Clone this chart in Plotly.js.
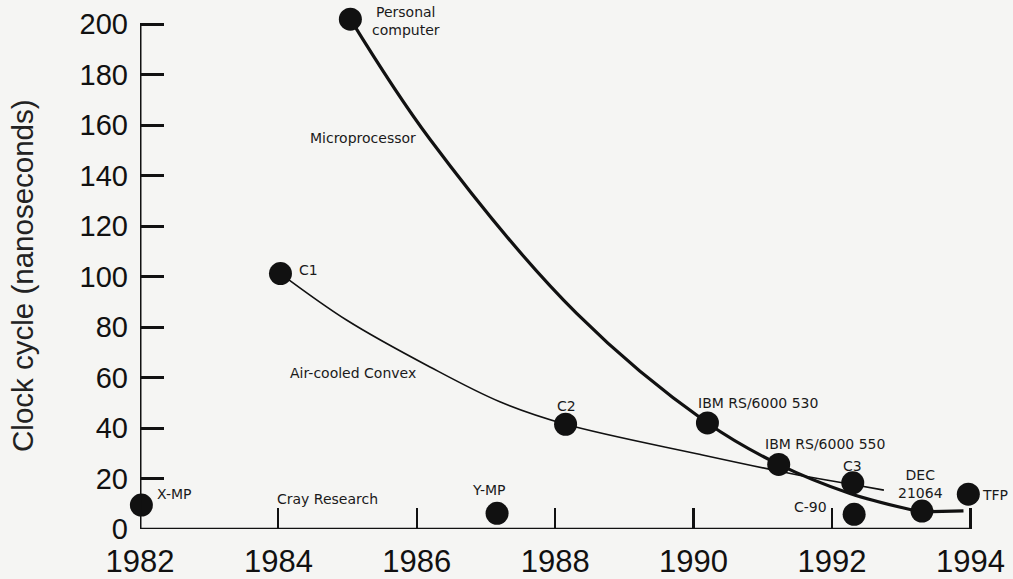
<!DOCTYPE html>
<html>
<head>
<meta charset="utf-8">
<script src="https://cdn.plot.ly/plotly-3.0.1.min.js"></script>
<style>html,body{margin:0;padding:0;background:#f5f5f3;}</style>
</head>
<body>
<div id="chart" style="width:1013px;height:579px;"></div>
<script>
// Machines (points)
const pointNames = ['X-MP','C1','Personal<br>computer','Y-MP','C2','IBM RS/6000 530','IBM RS/6000 550','C3','C-90','DEC<br>21064','TFP'];
const pointYears = [1982.02, 1984.03, 1985.04, 1987.16, 1988.15, 1990.2, 1991.23, 1992.3, 1992.32, 1993.3, 1993.97];
const pointCycles = [9.5, 101.2, 202, 6.2, 41.5, 42, 25.6, 18.3, 5.8, 7.1, 13.8];

// Microprocessor trend curve
const microYears = [1985.04, 1986.19, 1988.31, 1990.2, 1991.23, 1992.26, 1993.28];
const microCycles = [202, 154.4, 85.4, 42, 25.6, 14.1, 6.8];
// flat tail of the microprocessor curve after the DEC 21064
const microTailYears = [1993.28, 1993.9];
const microTailCycles = [6.8, 7.2];

// Air-cooled Convex trend curve
const convexYears = [1984.03, 1984.99, 1986.19, 1987.2, 1988.15, 1990.1, 1991.4, 1992.3, 1992.75];
const convexCycles = [101.2, 82.7, 64.2, 50.4, 41.5, 29.5, 22.0, 17.6, 15.4];

// Axis ticks
const yearTicks = [1982, 1984, 1986, 1988, 1990, 1992, 1994];
const cycleTicks = [0, 20, 40, 60, 80, 100, 120, 140, 160, 180, 200];

// Curve labels and axis title
const curveLabels = ['Microprocessor', 'Air-cooled Convex', 'Cray Research'];
const yTitle = 'Clock cycle (nanoseconds)';

const ink = '#111111';
const labelFont = {family: 'DejaVu Sans', size: 14, color: '#1a1a1a'};

const traces = [
  {x: convexYears, y: convexCycles, mode: 'lines', line: {color: ink, width: 1.6, shape: 'spline', smoothing: 1}, cliponaxis: false, hoverinfo: 'skip'},
  {x: microYears, y: microCycles, mode: 'lines', line: {color: ink, width: 3.2, shape: 'spline', smoothing: 1}, cliponaxis: false, hoverinfo: 'skip'},
  {x: microTailYears, y: microTailCycles, mode: 'lines', line: {color: ink, width: 3.2}, cliponaxis: false, hoverinfo: 'skip'},
  {x: pointYears, y: pointCycles, mode: 'markers', marker: {color: ink, size: 23}, cliponaxis: false, text: pointNames}
];

// label placement: [x, y, xanchor]
const pointLabelPos = [
  [1982.22, 13.9, 'left'],
  [1984.27, 102.5, 'left'],
  [1985.33, 201.2, 'left'],
  [1986.77, 15.4, 'left'],
  [1988.16, 48.7, 'center'],
  [1990.04, 50.0, 'left'],
  [1991.0, 33.5, 'left'],
  [1992.29, 25.0, 'center'],
  [1991.95, 8.6, 'right'],
  [1993.28, 17.7, 'center'],
  [1994.14, 13.5, 'left']
];
const curveLabelPos = [
  [1986.02, 155.1, 'right'],
  [1984.14, 62.0, 'left'],
  [1983.95, 11.9, 'left']
];

const annotations = [];
pointNames.forEach((t, i) => {
  const p = pointLabelPos[i];
  annotations.push({x: p[0], y: p[1], xref: 'x', yref: 'y', text: t, showarrow: false,
    xanchor: p[2], yanchor: 'middle', font: labelFont, align: 'center'});
});
curveLabels.forEach((t, i) => {
  const p = curveLabelPos[i];
  annotations.push({x: p[0], y: p[1], xref: 'x', yref: 'y', text: t, showarrow: false,
    xanchor: p[2], yanchor: 'middle', font: labelFont});
});
annotations.push({x: -0.1365, y: 0.4838, xref: 'paper', yref: 'paper', text: yTitle, showarrow: false,
  textangle: -90, xanchor: 'center', yanchor: 'middle',
  font: {family: 'Liberation Sans', size: 29.5, color: '#222'}});

const xMin = yearTicks[0], xMax = yearTicks[yearTicks.length - 1];
const yMin = cycleTicks[0], yMax = cycleTicks[cycleTicks.length - 1];

const layout = {
  width: 1013, height: 579,
  margin: {l: 140, r: 8.4, t: 4, b: 50},
  paper_bgcolor: '#f5f5f3', plot_bgcolor: '#f5f5f3',
  showlegend: false,
  xaxis: {
    range: [1982, 1994.5], tickvals: yearTicks, ticktext: yearTicks.map(String),
    showgrid: false, zeroline: false, showline: false,
    ticks: 'inside', ticklen: 21, tickwidth: 2.2, tickcolor: ink,
    tickfont: {family: 'Liberation Sans', size: 31, color: ink},
    ticklabelstandoff: 11
  },
  yaxis: {
    range: [0, 208], tickvals: cycleTicks, ticktext: cycleTicks.map(String),
    showgrid: false, zeroline: false, showline: false,
    ticks: 'inside', ticklen: 24, tickwidth: 3, tickcolor: ink,
    tickfont: {family: 'Liberation Sans', size: 29, color: ink},
    ticklabelstandoff: 11
  },
  shapes: [
    {type: 'line', xref: 'x', yref: 'y', x0: xMin, x1: xMax, y0: yMin, y1: yMin, line: {color: ink, width: 2.5}},
    {type: 'line', xref: 'x', yref: 'y', x0: xMin, x1: xMin, y0: yMin, y1: yMax, line: {color: ink, width: 3}}
  ],
  annotations: annotations
};

Plotly.newPlot('chart', traces, layout, {displayModeBar: false, staticPlot: true});
</script>
</body>
</html>
